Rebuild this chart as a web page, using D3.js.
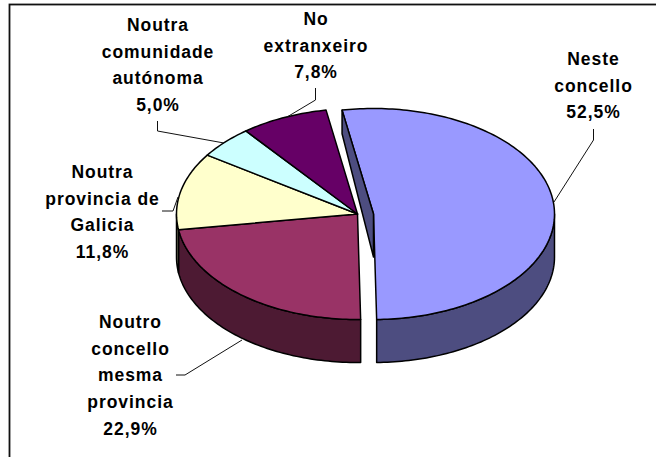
<!DOCTYPE html>
<html>
<head>
<meta charset="utf-8">
<script src="https://cdnjs.cloudflare.com/ajax/libs/d3/7.8.5/d3.min.js"></script>
<style>
    body { margin: 0; background: #fff; }
    svg { display: block; }
    text { font-family: "Liberation Sans", Arial, sans-serif; font-weight: bold; font-size: 17.5px; letter-spacing: 0.95px; fill: #000; }
</style>
</head>
<body>
<svg id="chart" width="656" height="457"></svg>
<script>
// Data
const categories = ["Neste concello", "Noutro concello mesma provincia", "Noutra provincia de Galicia", "Noutra comunidade autónoma", "No extranxeiro"];
const values = [52.5, 22.9, 11.8, 5.0, 7.8];
const valueLabels = ["52,5%", "22,9%", "11,8%", "5,0%", "7,8%"];

// Styles and layout
const topColors = ["#9999ff", "#993366", "#ffffcc", "#ccffff", "#660066"];
const sideColors = ["#4d4d80", "#4d1a33", "#808066", "#668080", "#330033"];
const labelLines = [
    ["Neste", "concello"],
    ["Noutro", "concello", "mesma", "provincia"],
    ["Noutra", "provincia de", "Galicia"],
    ["Noutra", "comunidade", "autónoma"],
    ["No", "extranxeiro"]
];
const labelX = [593.5, 130.5, 102.5, 158, 316];
const labelY = [65, 328, 178, 31, 25];
const leaders = [
    [[593.5, 129], [593.5, 140], [554, 202]],
    [[176, 375], [185, 375], [242, 340]],
    [[162, 211], [173, 211], [178, 197]],
    [[157.5, 121], [157.5, 131], [224, 143]],
    [[315.5, 88], [315.5, 100], [287, 117]]
];

const lineGap = 26.7;
const cx = 357.5, cy = 214, rx = 181, ry = 105.5;
const depth = 43;
const blueShift = 16;
const startAngle = -10 * Math.PI / 180;

const svg = d3.select("#chart");

// Unit circle to screen, the tilt comes from the different y range
const xScale = d3.scaleLinear().domain([-1, 1]).range([cx - rx, cx + rx]);
const yScale = d3.scaleLinear().domain([-1, 1]).range([cy + ry, cy - ry]);

const arcs = d3.pie().sort(null).startAngle(startAngle).endAngle(startAngle + 2 * Math.PI)(values);

function shiftOf(i) { return i == 0 ? blueShift : 0; }

function rimPoints(a0, a1, i, drop) {
    const n = Math.max(2, Math.ceil((a1 - a0) / 0.02));
    return d3.range(n + 1).map(function(k) {
        const a = a0 + (a1 - a0) * k / n;
        return [xScale(Math.sin(a)) + shiftOf(i), yScale(Math.cos(a)) + drop];
    });
}

const line = d3.line();

function outline(sel, color) {
    return sel.attr("fill", color)
        .attr("stroke", "#000")
        .attr("stroke-width", 1.5)
        .attr("stroke-linejoin", "round");
}

// Frame, right and bottom edges fall outside the picture
svg.append("rect")
    .attr("x", 9.5).attr("y", 4.5)
    .attr("width", 800).attr("height", 600)
    .attr("fill", "#fff")
    .attr("stroke", "#111")
    .attr("stroke-width", 1.8);

const pieG = svg.append("g");

// Outer walls, only the front half of the rim shows
arcs.forEach(function(d, i) {
    const a0 = Math.max(d.startAngle, Math.PI / 2);
    const a1 = Math.min(d.endAngle, 3 * Math.PI / 2);
    if (a1 > a0) {
        const pts = rimPoints(a0, a1, i, 0).concat(rimPoints(a0, a1, i, depth).reverse());
        outline(pieG.append("path"), sideColors[i]).attr("d", line(pts) + "Z");
    }
});

// Top faces, the exploded slice goes last
[1, 2, 3, 4, 0].forEach(function(i) {
    const d = arcs[i];
    const pts = [[cx + shiftOf(i), cy]].concat(rimPoints(d.startAngle, d.endAngle, i, 0));
    outline(pieG.append("path"), topColors[i]).attr("d", line(pts) + "Z");
});

// Cut face of the exploded slice, seen through the gap
const s = rimPoints(arcs[0].startAngle, arcs[0].startAngle, 0, 0)[0];
const wall = [s, [s[0], s[1] + depth * 0.55], [cx + blueShift, cy + depth], [cx + blueShift, cy]];
outline(pieG.append("path"), sideColors[0]).attr("d", line(wall) + "Z");

// Leader lines
svg.append("g").selectAll("path")
    .data(leaders)
    .enter()
    .append("path")
        .attr("d", function(d) { return line(d); })
        .attr("fill", "none")
        .attr("stroke", "#111")
        .attr("stroke-width", 1);

// Labels
const labels = svg.append("g").selectAll("text")
    .data(categories)
    .enter()
    .append("text")
        .attr("text-anchor", "middle")
        .attr("x", function(d, i) { return labelX[i]; })
        .attr("y", function(d, i) { return labelY[i]; });

labels.each(function(d, i) {
    const lines = labelLines[i].concat(valueLabels[i]);
    d3.select(this).selectAll("tspan")
        .data(lines)
        .enter()
        .append("tspan")
            .attr("x", labelX[i])
            .attr("dy", function(t, k) { return k == 0 ? 0 : lineGap; })
            .text(function(t) { return t; });
});
</script>
</body>
</html>
